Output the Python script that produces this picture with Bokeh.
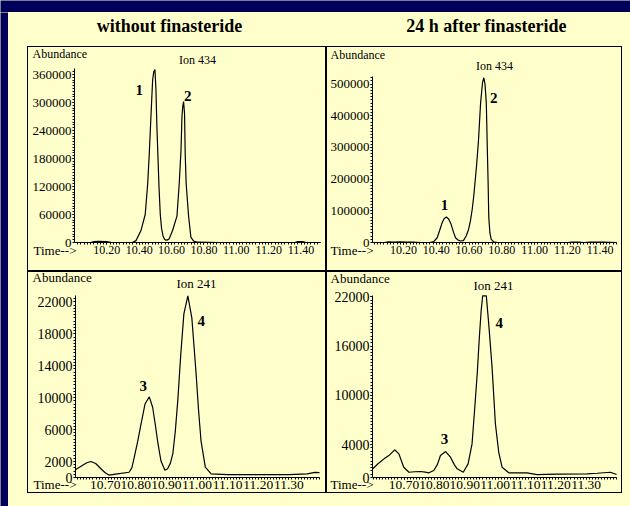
from bokeh.plotting import figure
from bokeh.models import (Range1d, FixedTicker, PrintfTickFormatter, Label,
                          GlobalInlineStyleSheet, ColumnDataSource)
from bokeh.layouts import row, column
from bokeh.embed import file_html
from bokeh.resources import INLINE

NAVY = "#00005a"
CREAM = "#ffffcc"
FONT = "Liberation Serif"

# ---------------- data ----------------
titles = ["without finasteride", "24 h after finasteride"]
ion_names = ["Ion 434", "Ion 434", "Ion 241", "Ion 241"]

# Ion 434, without finasteride
tl_time = [10.01, 10.10, 10.12, 10.15, 10.20, 10.23, 10.30, 10.36, 10.38, 10.41, 10.437, 10.452,
           10.462, 10.474, 10.483, 10.490, 10.497, 10.503, 10.509, 10.516, 10.522, 10.530, 10.538,
           10.547, 10.556, 10.565, 10.575, 10.585, 10.606, 10.633, 10.647, 10.658, 10.664, 10.669,
           10.674, 10.680, 10.684, 10.690, 10.705, 10.719, 10.736, 10.761, 10.90, 11.10, 11.30,
           11.36, 11.38, 11.41, 11.43, 11.52]
tl_abund = [0, 0, 2000, 2500, 2000, 0, 0, 500, 4000, 25000, 60000, 125000,
            190000, 283000, 350000, 366000, 371000, 330000, 250000, 180000, 120000, 60000, 30000,
            14000, 7000, 5000, 5500, 8000, 25700, 56400, 125800, 197000, 270000, 292000,
            302000, 276000, 190000, 125800, 56400, 11400, 2800, 600, 0, 0, 0,
            0, 1800, 2000, 0, 0]

# Ion 434, 24 h after finasteride
tr_time = [10.01, 10.08, 10.11, 10.14, 10.18, 10.22, 10.26, 10.30, 10.36, 10.384, 10.405, 10.420,
           10.435, 10.448, 10.461, 10.475, 10.490, 10.505, 10.517, 10.532, 10.547, 10.565, 10.582,
           10.596, 10.608, 10.619, 10.629, 10.645, 10.657, 10.670, 10.682, 10.690, 10.697, 10.705,
           10.711, 10.716, 10.720, 10.727, 10.735, 10.750, 10.772, 10.90, 11.10, 11.20, 11.23,
           11.27, 11.30, 11.34, 11.38, 11.42, 11.50]
tr_abund = [0, 0, 2000, 1500, 2000, 1000, 1500, 0, 0, 2500, 15000, 38000,
            62500, 76000, 80500, 74000, 57400, 32000, 15000, 8000, 4700, 6000, 20500,
            40000, 68000, 105000, 150000, 240000, 320000, 440000, 505000, 520000, 500000, 440000,
            300000, 190000, 80000, 30000, 10000, 2000, 0, 0, 0, 0, 1500,
            1500, 0, 1500, 1500, 1000, 0]

# Ion 241, without finasteride
bl_time = [10.604, 10.625, 10.640, 10.653, 10.669, 10.686, 10.700, 10.712, 10.740, 10.778, 10.787,
           10.795, 10.806, 10.817, 10.830, 10.844, 10.855, 10.863, 10.871, 10.882, 10.895, 10.904,
           10.913, 10.921, 10.929, 10.937, 10.947, 10.957, 10.970, 10.983, 10.990, 10.997, 11.005,
           11.013, 11.027, 11.046, 11.10, 11.20, 11.30, 11.36, 11.385, 11.40]
bl_abund = [1000, 1500, 1850, 2000, 1750, 1100, 600, 300, 460, 660, 1200,
            2540, 4500, 6700, 9200, 10100, 8800, 6800, 4600, 2100, 900, 1100,
            1800, 3000, 5800, 9600, 15500, 20500, 22750, 20000, 16500, 12960, 8400,
            4600, 1300, 460, 350, 350, 350, 450, 650, 600]

# Ion 241, 24 h after finasteride
br_time = [10.597, 10.615, 10.634, 10.650, 10.669, 10.683, 10.699, 10.716, 10.735, 10.754, 10.770,
           10.782, 10.798, 10.810, 10.820, 10.837, 10.853, 10.865, 10.875, 10.895, 10.911, 10.924,
           10.932, 10.941, 10.948, 10.954, 10.959, 10.971, 10.979, 10.990, 11.001, 11.012, 11.023,
           11.045, 11.105, 11.138, 11.20, 11.303, 11.336, 11.38, 11.40]
br_abund = [1060, 1700, 2270, 2670, 3370, 2880, 1250, 640, 700, 730, 650,
            570, 850, 1600, 2670, 3160, 2470, 1600, 1060, 640, 1660, 4090,
            8000, 12600, 17000, 20300, 22100, 22100, 18700, 13400, 6520, 3070, 1250,
            570, 570, 360, 400, 450, 520, 640, 360]

top_xticks = [10.20, 10.40, 10.60, 10.80, 11.00, 11.20, 11.40]
bottom_xticks = [10.70, 10.80, 10.90, 11.00, 11.10, 11.20, 11.30]
tl_yticks = [0, 60000, 120000, 180000, 240000, 300000, 360000]
tr_yticks = [0, 100000, 200000, 300000, 400000, 500000]
bl_yticks = [0, 2000, 6000, 10000, 14000, 18000, 22000]
br_yticks = [0, 4000, 10000, 16000, 22000]

# peak numbers: (label, time, abundance)
tl_peaks = [("1", 10.40, 327000), ("2", 10.70, 315000)]
tr_peaks = [("1", 10.45, 117000), ("2", 10.75, 457000)]
bl_peaks = [("3", 10.824, 11500), ("4", 11.014, 19600)]
br_peaks = [("3", 10.833, 4700), ("4", 11.014, 18800)]


def minor_list(start, step, n):
    return [round(start + i * step, 6) for i in range(n)]


def make_panel(spec):
    X0, Y0, W, H = spec["box"]          # panel box on the page
    FL, FR, FT, FB = spec["frame"]      # where the axes sit on the page
    xs, xe = spec["xr"]
    ys, ye = spec["yr"]
    ppx = (FR - FL) / (xe - xs)
    ppy = (FB - FT) / (ye - ys)
    x_full = (xs - (FL - X0) / ppx, xe + (X0 + W - FR) / ppx)
    y_full = (ys - (Y0 + H - FB) / ppy, ye + (FT - Y0) / ppy)
    p = figure(width=W, height=H, x_range=Range1d(*x_full), y_range=Range1d(*y_full),
               output_backend="svg", toolbar_location=None, title=None, min_border=0,
               min_border_left=0, min_border_right=0, min_border_top=0, min_border_bottom=0,
               background_fill_color=None, border_fill_color=None,
               outline_line_color=None,
               styles={"box-shadow": "inset 0 0 0 1px black"})
    p.grid.visible = False
    p.xaxis.fixed_location = ys
    p.xaxis.bounds = (xs, xe)
    p.yaxis.fixed_location = xs
    p.yaxis.bounds = (ys, ye)
    for ax, ticks, minors, fmt, afs in ((p.xaxis, spec["xt"], spec["xm"], "%.2f", spec["xfs"]),
                                        (p.yaxis, spec["yt"], spec["ym"], "%d", spec["yfs"])):
        ax.ticker = FixedTicker(ticks=ticks, minor_ticks=minors)
        ax.formatter = PrintfTickFormatter(format=fmt)
        ax.major_label_text_font = FONT
        ax.major_label_text_font_size = afs
        ax.major_label_text_color = "black"
        ax.axis_line_color = "black"
        ax.axis_line_width = 1
        ax.major_tick_line_color = "black"
        ax.minor_tick_line_color = "black"
        ax.major_tick_in = 0
        ax.major_tick_out = 2
        ax.minor_tick_in = 0
        ax.minor_tick_out = 2
        ax.major_label_standoff = 1
    src = ColumnDataSource(dict(t=spec["t"], v=spec["v"]))
    p.line(x="t", y="v", source=src, line_color="black", line_width=1.2)

    def dx(px):
        return xs + (px - FL) / ppx

    def dy(py):
        return ys + (FB - py) / ppy

    for text, px, py, align, lfs in spec["labels"]:
        p.add_layout(Label(x=dx(px), y=dy(py), text=text, text_font=FONT,
                           text_font_size=lfs, text_color="black",
                           text_align=align, text_baseline="middle"))
    for text, t, v in spec["peaks"]:
        p.add_layout(Label(x=t, y=v, text=text, text_font=FONT, text_font_size="15px",
                           text_font_style="bold", text_color="black",
                           text_align="center", text_baseline="middle"))
    return p


specs = [
    dict(box=(27, 46, 299, 225), frame=(74, 320, 68, 242), xr=(10.0, 11.52), yr=(0, 373000),
         xt=top_xticks, xm=minor_list(10.02, 0.02, 75), yt=tl_yticks, ym=minor_list(6000, 6000, 61),
         t=tl_time, v=tl_abund, xfs="12px", yfs="13px", peaks=tl_peaks,
         labels=[("Abundance", 32, 53, "left", "12px"), (ion_names[0], 197, 59, "center", "12px"),
                 ("Time-->", 33, 250, "left", "13px")]),
    dict(box=(326, 46, 296, 225), frame=(372, 616, 76, 242), xr=(10.01, 11.50), yr=(0, 524000),
         xt=top_xticks, xm=minor_list(10.02, 0.02, 75), yt=tr_yticks, ym=minor_list(10000, 10000, 52),
         t=tr_time, v=tr_abund, xfs="12px", yfs="13px", peaks=tr_peaks,
         labels=[("Abundance", 330, 54, "left", "12px"), (ion_names[1], 494, 65, "center", "12px"),
                 ("Time-->", 330, 250, "left", "13px")]),
    dict(box=(27, 271, 299, 222), frame=(75, 319, 295, 477), xr=(10.603, 11.40), yr=(0, 22800),
         xt=bottom_xticks, xm=minor_list(10.61, 0.01, 80), yt=bl_yticks, ym=minor_list(400, 400, 56),
         t=bl_time, v=bl_abund, xfs="13.5px", yfs="14px", peaks=bl_peaks,
         labels=[("Abundance", 32, 277, "left", "13px"), (ion_names[2], 196, 283, "center", "13px"),
                 ("Time-->", 33, 484, "left", "13px")]),
    dict(box=(326, 271, 296, 222), frame=(372, 616, 295, 477), xr=(10.596, 11.40), yr=(0, 22150),
         xt=bottom_xticks, xm=minor_list(10.60, 0.01, 81), yt=br_yticks, ym=minor_list(400, 400, 55),
         t=br_time, v=br_abund, xfs="13.5px", yfs="14px", peaks=br_peaks,
         labels=[("Abundance", 330, 278, "left", "13px"), (ion_names[3], 493, 285, "center", "13px"),
                 ("Time-->", 330, 484, "left", "13px")]),
]

panels = [make_panel(s) for s in specs]


def blank(w, h, fill):
    f = figure(width=w, height=h, x_range=Range1d(0, 1), y_range=Range1d(0, 1),
               output_backend="svg", toolbar_location=None, title=None,
               x_axis_type=None, y_axis_type=None, min_border=0,
               background_fill_color=fill, border_fill_color=fill, outline_line_color=None)
    f.grid.visible = False
    return f


# title strip (page x 8..630, y 12..46)
tfig = figure(width=622, height=34, x_range=Range1d(8, 630), y_range=Range1d(0, 34),
              output_backend="svg", toolbar_location=None, title=None,
              x_axis_type=None, y_axis_type=None, min_border=0,
              background_fill_color=None, border_fill_color=None, outline_line_color=None)
tfig.grid.visible = False
for txt, cx in ((titles[0], 169), (titles[1], 486)):
    tfig.add_layout(Label(x=cx, y=34 - (25 - 12), text=txt, text_font=FONT,
                          text_font_size="18px", text_font_style="bold", text_color="black",
                          text_align="center", text_baseline="middle"))

content = column(tfig,
                 row(blank(19, 447, None),
                     column(panels[0], panels[2], spacing=0),
                     column(panels[1], panels[3], spacing=0), spacing=0),
                 spacing=0)

root = column(blank(630, 12, NAVY), row(blank(8, 494, NAVY), content, spacing=0), spacing=0)

css = ("html { background-color: %s; overflow: hidden; } "
       "body { background: transparent; margin: 0; overflow: hidden; }") % CREAM
root.stylesheets = [GlobalInlineStyleSheet(css=css)]

open("out.html", "w").write(file_html(root, INLINE))
